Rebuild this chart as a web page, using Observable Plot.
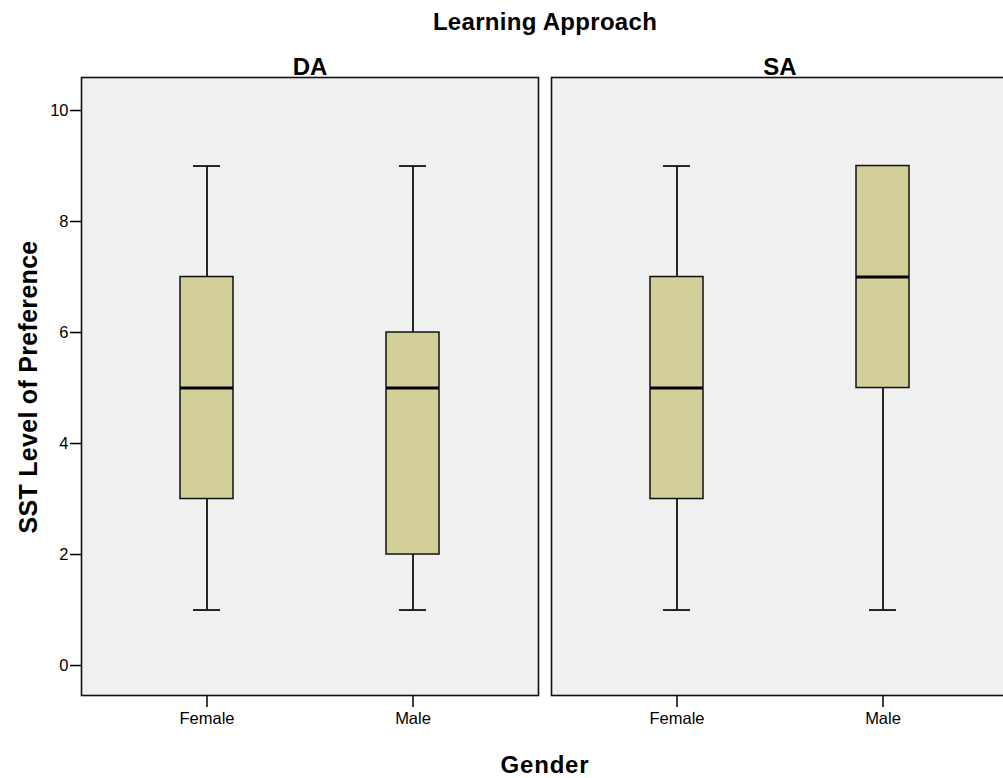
<!DOCTYPE html>
<html>
<head>
<meta charset="utf-8">
<script src="https://cdn.jsdelivr.net/npm/d3@7"></script>
<script src="https://cdn.jsdelivr.net/npm/@observablehq/plot@0.6"></script>
<style>
  html, body { margin: 0; padding: 0; background: #fff; overflow: hidden; }
  #wrap { position: relative; width: 1003px; height: 778px; overflow: hidden; font-family: "Liberation Sans", Arial, sans-serif; }
  #wrap svg { position: absolute; left: 0; top: 0; }
  .lbl { position: absolute; font-weight: bold; color: #000; white-space: nowrap; }
  #title { left: 545px; top: 22px; transform: translate(-50%, -50%); font-size: 24px; letter-spacing: 0.3px; }
  #xlabel { left: 545px; top: 765px; transform: translate(-50%, -50%); font-size: 24px; letter-spacing: 0.8px; }
  #ylabel { left: 28px; top: 387px; transform: translate(-50%, -50%) rotate(-90deg); font-size: 25px; letter-spacing: 0.3px; }
</style>
</head>
<body>
<div id="wrap">
  <div id="title" class="lbl">Learning Approach</div>
  <div id="xlabel" class="lbl">Gender</div>
  <div id="ylabel" class="lbl">SST Level of Preference</div>
</div>
<script>
// Data
const approaches = ["DA", "SA"];
const genders = ["Female", "Male"];
const approach = ["DA", "DA", "SA", "SA"];
const gender = ["Female", "Male", "Female", "Male"];
const mins = [1, 1, 1, 1];
const q1s = [3, 2, 3, 5];
const medians = [5, 5, 5, 7];
const q3s = [7, 6, 7, 9];
const maxs = [9, 9, 9, 9];
const yTicks = [0, 2, 4, 6, 8, 10];

const rows = approach.map((a, i) => ({
  approach: a, gender: gender[i], min: mins[i], q1: q1s[i], median: medians[i], q3: q3s[i], max: maxs[i]
}));

const fill = "#d3cf98";
const chart = Plot.plot({
  width: 1003,
  height: 778,
  marginLeft: 80,
  marginRight: -6,
  marginTop: 77,
  marginBottom: 83,
  style: { fontFamily: "'Liberation Sans', Arial, sans-serif", fontSize: "16px", background: "transparent", color: "#000" },
  fx: { domain: approaches, paddingInner: 0.0276, paddingOuter: 0, axis: null, label: null },
  x: { domain: genders, paddingInner: 0.743, paddingOuter: 0.48, label: null },
  y: { domain: [-0.54, 10.595], label: null },
  marks: [
    Plot.frame({ fill: "#f0f0f0", stroke: "#111", strokeWidth: 1.6 }),
    Plot.axisY({ ticks: yTicks, tickSize: 11, tickPadding: 2, fontSize: 16.5, strokeWidth: 1.5, label: null }),
    Plot.axisX({ tickSize: 12, tickPadding: 5, fontSize: 16.5, strokeWidth: 1.5, label: null }),
    Plot.text(approaches, { fx: d => d, text: d => d, frameAnchor: "top", lineAnchor: "bottom", dy: -3, fontSize: 24, fontWeight: "bold" }),
    // lower whisker
    Plot.ruleX(rows, { fx: "approach", x: "gender", y1: "min", y2: "q1", stroke: "#111", strokeWidth: 1.8 }),
    // upper whisker
    Plot.ruleX(rows, { fx: "approach", x: "gender", y1: "q3", y2: "max", stroke: "#111", strokeWidth: 1.8 }),
    // caps
    Plot.tickY(rows, { fx: "approach", x: "gender", y: "min", stroke: "#111", strokeWidth: 1.8, insetLeft: 13, insetRight: 13 }),
    Plot.tickY(rows, { fx: "approach", x: "gender", y: "max", stroke: "#111", strokeWidth: 1.8, insetLeft: 13, insetRight: 13 }),
    // box
    Plot.barY(rows, { fx: "approach", x: "gender", y1: "q1", y2: "q3", fill: fill, stroke: "#111", strokeWidth: 1.5 }),
    // median
    Plot.tickY(rows, { fx: "approach", x: "gender", y: "median", stroke: "#000", strokeWidth: 3 })
  ]
});
document.getElementById("wrap").prepend(chart);
</script>
</body>
</html>
